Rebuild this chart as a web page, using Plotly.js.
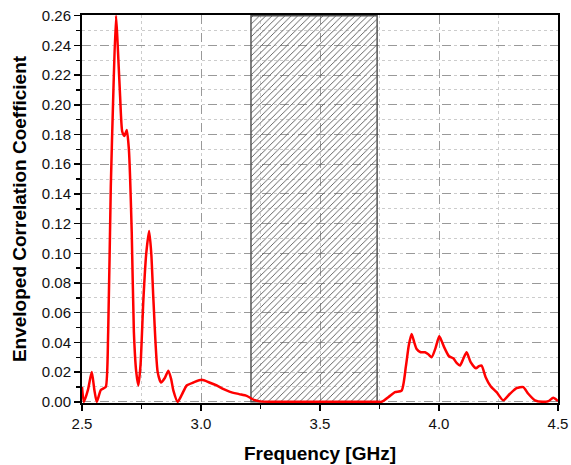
<!DOCTYPE html>
<html>
<head>
<meta charset="utf-8">
<script src="https://cdn.plot.ly/plotly-3.0.1.min.js"></script>
<style>html,body{margin:0;padding:0;background:#fff;}#chart{width:571px;height:465px;}</style>
</head>
<body>
<div id="chart"></div>
<script>
// Frequency (GHz) and envelope correlation coefficient
const freq = [2.5, 2.508, 2.525, 2.541, 2.552, 2.562, 2.579, 2.59, 2.600, 2.610, 2.621, 2.632, 2.643, 2.65, 2.66, 2.669, 2.678, 2.688, 2.697, 2.709, 2.718, 2.728, 2.737, 2.746, 2.758, 2.770, 2.782, 2.791, 2.800, 2.818, 2.832, 2.848, 2.863, 2.875, 2.884, 2.902, 2.920, 2.940, 2.968, 3.003, 3.035, 3.066, 3.095, 3.122, 3.16, 3.192, 3.22, 3.248, 3.3, 3.4, 3.5, 3.6, 3.7, 3.74, 3.759, 3.794, 3.815, 3.843, 3.861, 3.873, 3.885, 3.896, 3.906, 3.923, 3.941, 3.955, 3.969, 3.985, 4.001, 4.011, 4.021, 4.042, 4.060, 4.075, 4.088, 4.102, 4.116, 4.133, 4.155, 4.168, 4.179, 4.196, 4.217, 4.242, 4.270, 4.298, 4.326, 4.354, 4.375, 4.403, 4.437, 4.460, 4.480, 4.5];
const ecc = [0.010, 0.0, 0.008, 0.020, 0.008, 0.0, 0.008, 0.009, 0.010, 0.047, 0.145, 0.210, 0.260, 0.240, 0.206, 0.182, 0.179, 0.183, 0.170, 0.114, 0.047, 0.020, 0.011, 0.025, 0.069, 0.100, 0.115, 0.100, 0.069, 0.020, 0.013, 0.016, 0.021, 0.015, 0.0075, 0.0, 0.005, 0.011, 0.013, 0.0148, 0.013, 0.011, 0.0085, 0.0067, 0.0052, 0.004, 0.0015, 0.0003, 0.0, 0.0, 0.0, 0.0, 0.0, 0.0, 0.0, 0.004, 0.0065, 0.0076, 0.024, 0.038, 0.0457, 0.040, 0.0356, 0.0334, 0.0334, 0.032, 0.030, 0.036, 0.0441, 0.041, 0.037, 0.0307, 0.0293, 0.026, 0.0244, 0.029, 0.0334, 0.0267, 0.0226, 0.024, 0.0244, 0.0166, 0.0105, 0.0065, 0.001, 0.0054, 0.0092, 0.0099, 0.0054, 0.001, 0.0, 0.0005, 0.0027, 0.0005];

// Excluded (hatched) band
const bandStart = 3.21;
const bandEnd = 3.74;
const bandTop = 0.26;

const xTicks = [2.5, 3.0, 3.5, 4.0, 4.5];
const yTicks = [0, 0.02, 0.04, 0.06, 0.08, 0.10, 0.12, 0.14, 0.16, 0.18, 0.20, 0.22, 0.24, 0.26];

const traces = [
  {
    type: 'bar',
    x: [(bandStart + bandEnd) / 2],
    y: [bandTop],
    width: [bandEnd - bandStart],
    base: [0],
    marker: {
      color: 'rgba(255,255,255,0)',
      line: {color: '#555', width: 1.5},
      pattern: {shape: '/', size: 4.5, solidity: 0.2, fgcolor: '#555', bgcolor: 'rgba(0,0,0,0)', fgopacity: 1}
    },
    hoverinfo: 'skip',
    showlegend: false
  },
  {
    type: 'scatter',
    mode: 'lines',
    x: freq,
    y: ecc,
    line: {color: '#ff0000', width: 2.5, shape: 'spline', smoothing: 0.6},
    showlegend: false
  }
];

const layout = {
  width: 571,
  height: 465,
  margin: {l: 82, r: 13, t: 15, b: 62},
  paper_bgcolor: '#fff',
  plot_bgcolor: '#fff',
  font: {family: 'Liberation Sans, Arial, sans-serif', color: '#111'},
  bargap: 0,
  xaxis: {
    range: [2.5, 4.5],
    tickvals: xTicks,
    tickformat: '.1f',
    ticks: 'outside',
    ticklen: 6,
    tickwidth: 1.5,
    tickcolor: '#000',
    tickfont: {size: 15, color: '#111'},
    showline: true,
    linecolor: '#000',
    linewidth: 2,
    mirror: true,
    showgrid: true,
    gridcolor: '#999',
    griddash: 'dash',
    gridwidth: 1,
    zeroline: false,
    minor: {dtick: 0.25, tick0: 2.5, ticks: 'outside', ticklen: 4, tickcolor: '#000', showgrid: true, gridcolor: '#ccc', griddash: 'dot', gridwidth: 1},
    title: {text: 'Frequency [GHz]', font: {size: 19, color: '#000', weight: 'bold'}, standoff: 16},
    automargin: false
  },
  yaxis: {
    range: [-0.0008, 0.2605],
    tickvals: yTicks,
    tickformat: '.2f',
    ticks: 'outside',
    ticklen: 6,
    tickwidth: 1.5,
    tickcolor: '#000',
    tickfont: {size: 15, color: '#111'},
    showline: true,
    linecolor: '#000',
    linewidth: 2,
    mirror: true,
    showgrid: true,
    gridcolor: '#999',
    griddash: 'dash',
    gridwidth: 1,
    zeroline: false,
    minor: {dtick: 0.01, tick0: 0, ticks: 'outside', ticklen: 4, tickcolor: '#000', showgrid: true, gridcolor: '#ccc', griddash: 'dot', gridwidth: 1},
    title: {text: 'Enveloped Correlation Coefficient', font: {size: 19, color: '#000', weight: 'bold'}, standoff: 10},
    automargin: false
  }
};

Plotly.newPlot('chart', traces, layout, {displayModeBar: false, staticPlot: true});
</script>
</body>
</html>
